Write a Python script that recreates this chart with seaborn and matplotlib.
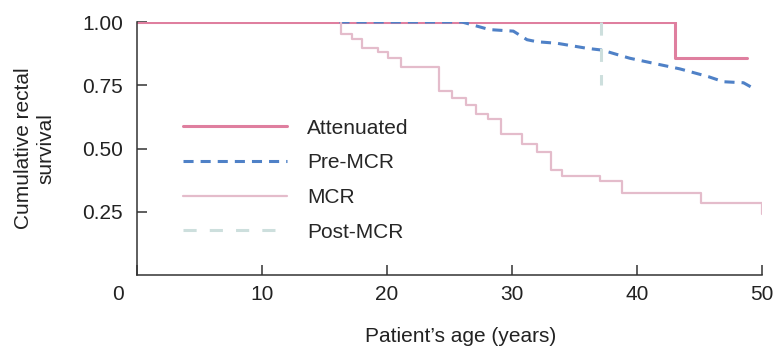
import matplotlib
matplotlib.use("Agg")
import matplotlib.pyplot as plt
import matplotlib.transforms as mtransforms
import seaborn as sns

# Kaplan-Meier style curves
att_age = [0, 43.0, 48.8]
att_surv = [1.0, 0.857, 0.857]

pre_age = [16.2, 26.0, 28.2, 30.1, 31.2, 32.0, 33.6, 36.0, 37.2, 39.4, 41.3, 43.4, 45.7, 46.9, 48.5, 49.3]
pre_surv = [1.0, 1.0, 0.970, 0.964, 0.930, 0.922, 0.916, 0.896, 0.889, 0.857, 0.837, 0.815, 0.784, 0.764, 0.760, 0.738]

mcr_age = [16.3, 16.3, 17.2, 18.0, 19.3, 20.05, 21.1, 24.2, 25.2, 26.3, 27.15, 28.05, 29.15,
           30.8, 32.0, 33.1, 34.0, 37.0, 38.8, 45.1, 50.0]
mcr_surv = [1.0, 0.951, 0.933, 0.898, 0.880, 0.857, 0.823, 0.727, 0.698, 0.672, 0.636, 0.615, 0.558,
            0.519, 0.486, 0.415, 0.391, 0.370, 0.325, 0.286, 0.241]

post_age = [37.1, 37.1]
post_surv = [1.0, 0.75]

x_ticks = [0, 10, 20, 30, 40, 50]
y_ticks = [0.25, 0.50, 0.75, 1.00]
y_labels = ["0.25", "0.50", "0.75", "1.00"]

sns.set_style("ticks")
plt.rcParams["font.family"] = ["Liberation Sans", "DejaVu Sans"]
plt.rcParams["font.size"] = 15

fig = plt.figure(figsize=(7.77, 3.55), dpi=100)
ax = fig.add_axes([0.176, 0.225, 0.805, 0.713])

sns.lineplot(x=att_age, y=att_surv, ax=ax, color="#df7f9f", linewidth=2.2,
             drawstyle="steps-post", sort=False, estimator=None, label="Attenuated")
sns.lineplot(x=pre_age, y=pre_surv, ax=ax, color="#4f81c7", linewidth=2.2,
             dashes=(3.3, 2.3), sort=False, estimator=None, label="Pre-MCR")
sns.lineplot(x=mcr_age, y=mcr_surv, ax=ax, color="#e4bccb", linewidth=1.6,
             drawstyle="steps-post", sort=False, estimator=None, label="MCR")
sns.lineplot(x=post_age, y=post_surv, ax=ax, color="#cddfdd", linewidth=2.2,
             dashes=(4.3, 4.3), sort=False, estimator=None, label="Post-MCR")

ax.set_xlim(0, 50)
ax.set_ylim(0, 1.0)
ax.set_xticks(x_ticks)
ax.set_yticks(y_ticks)
ax.set_yticklabels(y_labels)
sns.despine(ax=ax)
for s in ["left", "bottom"]:
    ax.spines[s].set_color("#333333")
    ax.spines[s].set_linewidth(1.1)
ax.tick_params(direction="in", length=7, width=1.1, color="#333333", labelcolor="#222222")
ax.tick_params(axis="x", pad=7)
ax.tick_params(axis="y", pad=10)

# the shared origin "0" sits under the y tick labels
zero = ax.get_xticklabels()[0]
zero.set_transform(zero.get_transform() + mtransforms.ScaledTranslation(-19 / 100, 0, fig.dpi_scale_trans))

ax.set_xlabel("Patient\u2019s age (years)", color="#222222")
ax.set_ylabel("Cumulative rectal\nsurvival", color="#222222", linespacing=1.25)
ax.xaxis.set_label_coords(0.518, -0.205)
ax.yaxis.set_label_coords(-0.13, 0.5)

ax.legend(loc="center left", bbox_to_anchor=(0.074, 0.375), frameon=False,
          borderpad=0, borderaxespad=0, handlelength=5.0, handletextpad=0.95,
          labelspacing=0.75, fontsize=15)

fig.savefig("out.png", dpi=100)
